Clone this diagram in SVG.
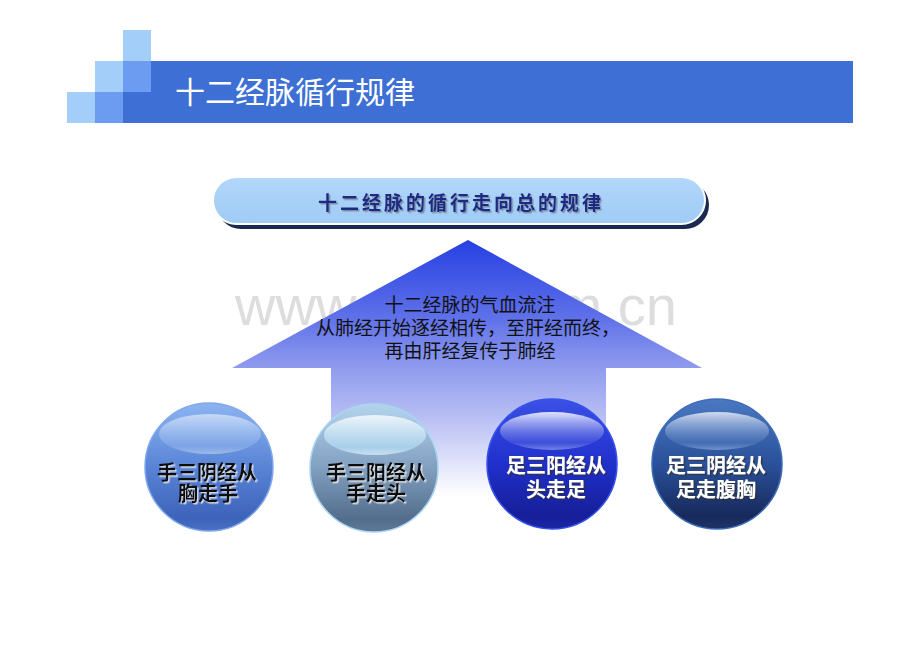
<svg xmlns="http://www.w3.org/2000/svg" width="920" height="651" viewBox="0 0 920 651">
<defs>
<style>
.cjk{font-family:"Noto Sans CJK SC","Noto Sans",sans-serif}
.title{font-size:30px;fill:#FFFFFF}
.banner-t{font-size:19px;font-weight:700;fill:#1E2B82;letter-spacing:3px}
.arrow-t{font-size:19px;fill:#111111}
.ct-dark{font-size:20px;font-weight:700;fill:#0A0A0A}
.ct-light{font-size:20px;font-weight:700;fill:#FFFFFF}
.wm{font-family:"Liberation Sans",Arial,sans-serif;font-size:56px;fill:#BDBDBD;opacity:0.5}
</style>
<linearGradient id="arrowGrad" gradientUnits="userSpaceOnUse" x1="0" y1="240" x2="0" y2="495">
<stop offset="0" stop-color="#2640E2"/>
<stop offset="0.3" stop-color="#5E70E9"/>
<stop offset="0.5" stop-color="#8F9BEE"/>
<stop offset="0.75" stop-color="#C4C9F5"/>
<stop offset="1" stop-color="#FFFFFF"/>
</linearGradient>
<linearGradient id="bannerGrad" x1="0" y1="0" x2="0" y2="1">
<stop offset="0" stop-color="#B2D7FA"/>
<stop offset="1" stop-color="#9FCBF5"/>
</linearGradient>
<linearGradient id="g1" x1="0" y1="0" x2="0" y2="1">
<stop offset="0" stop-color="#8CB4F0"/>
<stop offset="0.5" stop-color="#5984D6"/>
<stop offset="0.9" stop-color="#3D63BA"/>
<stop offset="1" stop-color="#4A70C4"/>
</linearGradient>
<linearGradient id="g2" x1="0" y1="0" x2="0" y2="1">
<stop offset="0" stop-color="#B4D4EE"/>
<stop offset="0.5" stop-color="#819FBF"/>
<stop offset="0.9" stop-color="#536D8C"/>
<stop offset="1" stop-color="#5E7896"/>
</linearGradient>
<linearGradient id="g3" x1="0" y1="0" x2="0" y2="1">
<stop offset="0" stop-color="#3A50E6"/>
<stop offset="0.5" stop-color="#2030CC"/>
<stop offset="0.9" stop-color="#161E98"/>
<stop offset="1" stop-color="#1C26A6"/>
</linearGradient>
<linearGradient id="g4" x1="0" y1="0" x2="0" y2="1">
<stop offset="0" stop-color="#4A78C2"/>
<stop offset="0.5" stop-color="#2A519A"/>
<stop offset="0.9" stop-color="#17295C"/>
<stop offset="1" stop-color="#1E3468"/>
</linearGradient>
<linearGradient id="hl1" x1="0" y1="0" x2="0" y2="1">
<stop offset="0" stop-color="#F4F8FF" stop-opacity="0.6"/>
<stop offset="0.8" stop-color="#A8C8F4" stop-opacity="0.3"/>
<stop offset="1" stop-color="#D8E8FC" stop-opacity="0.5"/>
</linearGradient>
<linearGradient id="hl2" x1="0" y1="0" x2="0" y2="1">
<stop offset="0" stop-color="#FFFFFF" stop-opacity="0.8"/>
<stop offset="0.8" stop-color="#B8E2FA" stop-opacity="0.6"/>
<stop offset="1" stop-color="#DDF2FF" stop-opacity="0.75"/>
</linearGradient>
<linearGradient id="hl3" x1="0" y1="0" x2="0" y2="1">
<stop offset="0" stop-color="#FFFFFF" stop-opacity="0.85"/>
<stop offset="0.8" stop-color="#7080EA" stop-opacity="0.3"/>
<stop offset="1" stop-color="#C8D0F8" stop-opacity="0.5"/>
</linearGradient>
<linearGradient id="hl4" x1="0" y1="0" x2="0" y2="1">
<stop offset="0" stop-color="#FFFFFF" stop-opacity="0.75"/>
<stop offset="0.8" stop-color="#6A90D0" stop-opacity="0.3"/>
<stop offset="1" stop-color="#B8CCEC" stop-opacity="0.5"/>
</linearGradient>
<filter id="shLight" x="-10%" y="-20%" width="130%" height="150%">
<feDropShadow dx="1.5" dy="1.5" stdDeviation="0.6" flood-color="#F0F0F0" flood-opacity="0.8"/>
</filter>
<filter id="shDark" x="-10%" y="-20%" width="130%" height="150%">
<feDropShadow dx="1.5" dy="1.5" stdDeviation="0.6" flood-color="#303030" flood-opacity="0.8"/>
</filter>
<filter id="shBanner" x="-10%" y="-20%" width="130%" height="150%">
<feDropShadow dx="1.5" dy="1.5" stdDeviation="0.6" flood-color="#6F7F98" flood-opacity="0.8"/>
</filter>
</defs>
<rect x="0" y="0" width="920" height="651" fill="#FFFFFF"/>

<g id="header">
<rect x="151" y="61" width="702" height="31" fill="#3D6FD4"/>
<rect x="123" y="92" width="730" height="31" fill="#3D6FD4"/>
<rect x="123" y="30" width="28" height="31" fill="#A4CEFA"/>
<rect x="95" y="61" width="28" height="31" fill="#A4CEFA"/>
<rect x="123" y="61" width="28" height="31" fill="#6C9CF1"/>
<rect x="67" y="92" width="28" height="31" fill="#A4CEFA"/>
<rect x="95" y="92" width="28" height="31" fill="#6C9CF1"/>
<text class="cjk title" x="175" y="103">十二经脉循行规律</text>
</g>

<g id="banner">
<rect x="217" y="181" width="492" height="48" rx="24" fill="#1A2A4E"/>
<rect x="213" y="177" width="492" height="47" rx="23.5" fill="url(#bannerGrad)" stroke="#FFFFFF" stroke-width="2"/>
<text class="cjk banner-t" x="318" y="210" filter="url(#shBanner)">十二经脉的循行走向总的规律</text>
</g>

<text class="wm" x="235" y="325">www.zixin.com.cn</text>

<g id="flow-arrow">
<polygon points="468,240 702,368 606,368 606,500 331,500 331,368 232,368" fill="url(#arrowGrad)"/>
<text class="cjk arrow-t" x="470" y="312" text-anchor="middle">十二经脉的气血流注</text>
<text class="cjk arrow-t" x="468" y="335" text-anchor="middle">从肺经开始逐经相传，至肝经而终，</text>
<text class="cjk arrow-t" x="470" y="358" text-anchor="middle">再由肝经复传于肺经</text>
</g>

<g id="connectors"></g>

<g id="node-shou-san-yin">
<circle cx="209" cy="467" r="64" fill="url(#g1)" stroke="#7FA8EC" stroke-width="1.5"/>
<ellipse cx="210" cy="434" rx="51" ry="20" fill="url(#hl1)"/>
<text class="cjk ct-dark" x="207" y="480" text-anchor="middle" filter="url(#shLight)">手三阴经从</text>
<text class="cjk ct-dark" x="208" y="501" text-anchor="middle" filter="url(#shLight)">胸走手</text>
</g>

<g id="node-shou-san-yang">
<circle cx="374" cy="468" r="64" fill="url(#g2)" stroke="#A9D6F2" stroke-width="1.5"/>
<ellipse cx="375" cy="435" rx="51" ry="20" fill="url(#hl2)"/>
<text class="cjk ct-dark" x="376" y="480" text-anchor="middle" filter="url(#shLight)">手三阳经从</text>
<text class="cjk ct-dark" x="376" y="501" text-anchor="middle" filter="url(#shLight)">手走头</text>
</g>

<g id="node-zu-san-yang">
<circle cx="552" cy="464" r="65" fill="url(#g3)" stroke="#3552EA" stroke-width="1.5"/>
<ellipse cx="552" cy="431" rx="52" ry="19" fill="url(#hl3)"/>
<text class="cjk ct-light" x="556" y="473" text-anchor="middle" filter="url(#shDark)">足三阳经从</text>
<text class="cjk ct-light" x="556" y="497" text-anchor="middle" filter="url(#shDark)">头走足</text>
</g>

<g id="node-zu-san-yin">
<circle cx="717" cy="464" r="65" fill="url(#g4)" stroke="#3E6CB8" stroke-width="1.5"/>
<ellipse cx="717" cy="431" rx="52" ry="19" fill="url(#hl4)"/>
<text class="cjk ct-light" x="716" y="473" text-anchor="middle" filter="url(#shDark)">足三阴经从</text>
<text class="cjk ct-light" x="716" y="497" text-anchor="middle" filter="url(#shDark)">足走腹胸</text>
</g>
</svg>
